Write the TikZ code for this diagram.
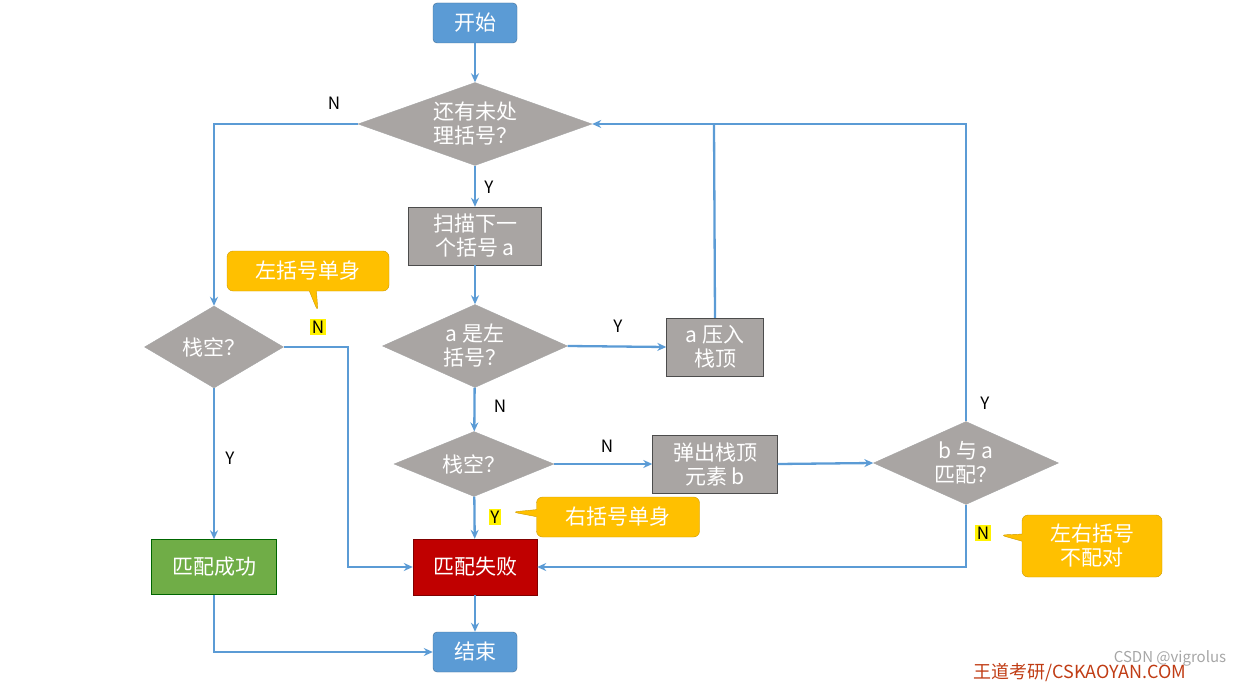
\documentclass[tikz,border=0pt]{standalone}
\usepackage{fontspec}
\setmainfont{Noto Sans CJK SC}
\usetikzlibrary{shapes.geometric,shapes.callouts,arrows.meta}
\definecolor{lblue}{HTML}{5B9BD5}
\definecolor{dgray}{HTML}{A9A5A3}
\definecolor{ygold}{HTML}{FFC000}
\begin{document}
\begin{tikzpicture}[x=1pt,y=-1pt,
  txt/.style={font=\fontsize{21}{24}\selectfont,text=white,align=center},
  term/.style={txt,draw=lblue!70!black,fill=lblue,rounded corners=4pt,minimum width=84pt,minimum height=40pt,inner sep=0},
  box/.style={txt,draw=gray!60!black,fill=dgray,minimum width=#1,minimum height=58pt,inner sep=0},
  dia/.style={diamond,draw=gray!70,fill=dgray,inner sep=0,label={[txt]center:#1}},
  call/.style={rectangle callout,rounded corners=6pt,fill=ygold,draw=ygold!80!black,font=\fontsize{21}{24}\selectfont,text=white,inner sep=0,minimum height=40pt},
  line/.style={draw=lblue,line width=2.3pt},
  arr/.style={line,-{Stealth[length=9pt,width=8pt]}},
  lab/.style={font=\fontsize{17}{20}\selectfont},
  hl/.style={lab,fill=yellow,inner sep=1.5pt}]
\useasboundingbox (0,0) rectangle (1251,682);
\node[term] (start) at (475,23) {开始};
\node[dia={还有未处\\理括号？},minimum width=234pt,minimum height=83pt] (d1) at (475,124) {};
\node[box=133pt] (scan) at (475,236) {扫描下一\\个括号 a};
\node[dia={a 是左\\括号？},minimum width=185pt,minimum height=83pt] (d2) at (475,346) {};
\node[box=97pt] (push) at (715,347) {a 压入\\栈顶};
\node[dia={栈空？},minimum width=160pt,minimum height=65pt] (d3) at (474,464) {};
\node[box=125pt] (pop) at (715,464) {弹出栈顶\\元素 b};
\node[dia={b 与 a\\匹配？},minimum width=185pt,minimum height=83pt] (d4) at (966,463) {};
\node[dia={栈空？},minimum width=139pt,minimum height=82pt] (d5) at (214,347) {};
\node[txt,draw=green!40!black,fill={rgb,255:red,112;green,173;blue,71},minimum width=125pt,minimum height=55pt,inner sep=0] (ok) at (214,567) {匹配成功};
\node[txt,draw=red!50!black,fill={rgb,255:red,192;green,0;blue,0},minimum width=124pt,minimum height=56pt,inner sep=0] (fail) at (475,567) {匹配失败};
\node[term] (end) at (475,652) {结束};

\coordinate (c1) at (214,124);
\coordinate (c2) at (714,124);
\coordinate (c3) at (966,124);
\coordinate (c4) at (966,567);
\coordinate (c5) at (348,347);
\coordinate (c6) at (348,567);
\coordinate (c7) at (214,652);

\draw[arr] (start) -- (d1);
\draw[arr] (d1) -- (scan);
\draw[arr] (d1.west) -- (c1) -- (d5.north);
\draw[arr] (scan) -- (d2);
\draw[arr] (d2.east) -- (push.west);
\draw[line] (push.north) -- (c2);
\draw[arr] (d4.north) -- (c3) -- (d1.east);
\draw[arr] (d2) -- (d3);
\draw[arr] (d3.east) -- (pop.west);
\draw[arr] (pop.east) -- (d4.west);
\draw[arr] (d4.south) -- (c4) -- (fail.east);
\draw[arr] (d3) -- (fail);
\draw[arr] (d5.east) -- (c5) -- (c6) -- (fail.west);
\draw[arr] (d5) -- (ok);
\draw[arr] (ok.south) -- (c7) -- (end.west);
\draw[arr] (fail) -- (end);

\node[lab] (l1) at (334,103) {N};
\node[lab] (l2) at (489,187) {Y};
\node[lab] (l3) at (618,326) {Y};
\node[lab] (l4) at (500,406) {N};
\node[lab] (l5) at (607,446) {N};
\node[lab] (l6) at (985,403) {Y};
\node[lab] (l7) at (230,458) {Y};
\node[hl] (h1) at (318,327) {N};
\node[hl] (h2) at (495,517) {Y};
\node[hl] (h3) at (983,533) {N};

\node[call,minimum width=162pt,callout absolute pointer={(318,312)}] (k1) at (308,271) {左括号单身};
\node[call,minimum width=163pt,callout absolute pointer={(512,512)}] (k2) at (618,517) {右括号单身};
\node[call,minimum width=140pt,minimum height=62pt,align=center,callout absolute pointer={(1000,535)}] (k3) at (1092,546) {左右括号\\不配对};

\node[font=\fontsize{15}{18}\selectfont,text=gray!70] (w1) at (1170,658) {CSDN @vigrolus};
\node[font=\fontsize{18}{20}\selectfont,text={rgb,255:red,192;green,60;blue,20}] (w2) at (1080,673) {王道考研/CSKAOYAN.COM};
\end{tikzpicture}
\end{document}
